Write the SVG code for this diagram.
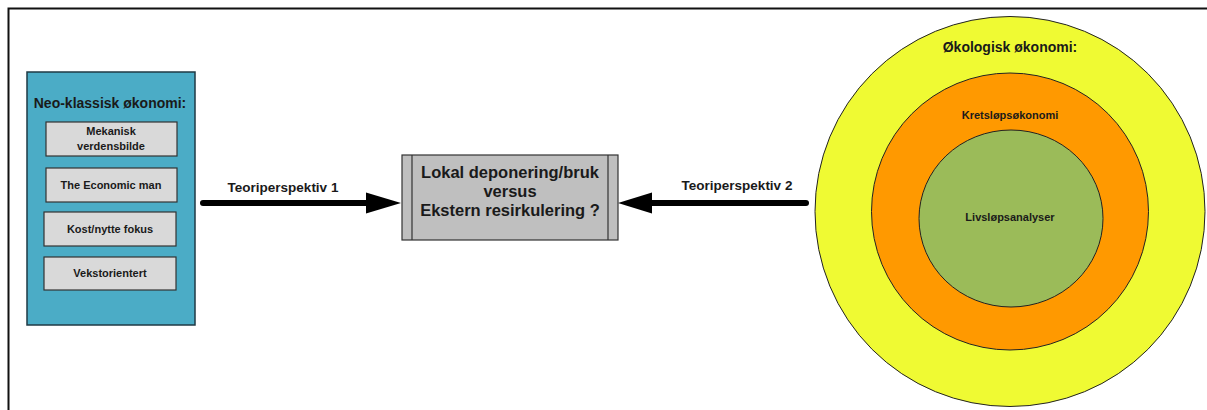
<svg xmlns="http://www.w3.org/2000/svg" width="1207" height="410" viewBox="0 0 1207 410">
  <style>
    text { font-family: "Liberation Sans", Arial, sans-serif; font-weight: bold; fill: #1a1a1a; text-anchor: middle; }
    .item { fill: #D9D9D9; stroke: #333; stroke-width: 1.2; }
    .ring { stroke: #222; stroke-width: 1; }
    .conn { stroke: #000; stroke-width: 6; stroke-linecap: round; fill: none; }
    .head { fill: #000; }
  </style>

  <!-- page frame -->
  <path d="M8.5,410 V8.5 H1207" fill="none" stroke="#111" stroke-width="2"/>

  <!-- neoclassical economics panel -->
  <g id="neo-klassisk">
    <rect x="27" y="72" width="168" height="253" fill="#4BACC6" stroke="#1f3a44" stroke-width="1.5"/>
    <text x="110" y="108" font-size="14">Neo-klassisk økonomi:</text>
    <rect class="item" x="46" y="122" width="131" height="34"/>
    <text x="111" y="135" font-size="11">Mekanisk</text>
    <text x="111" y="150" font-size="11">verdensbilde</text>
    <rect class="item" x="46" y="168" width="131" height="34"/>
    <text x="111" y="189" font-size="11">The Economic man</text>
    <rect class="item" x="44" y="212" width="132" height="34"/>
    <text x="110" y="233" font-size="11">Kost/nytte fokus</text>
    <rect class="item" x="44" y="257" width="132" height="33"/>
    <text x="110" y="277" font-size="11">Vekstorientert</text>
  </g>

  <!-- central question -->
  <g id="sporsmal">
    <rect x="402" y="155" width="216" height="85" fill="#BFBFBF" stroke="#333" stroke-width="1.2"/>
    <line x1="412" y1="155" x2="412" y2="240" stroke="#333" stroke-width="1.2"/>
    <line x1="608" y1="155" x2="608" y2="240" stroke="#333" stroke-width="1.2"/>
    <text x="510" y="178" font-size="16.5">Lokal deponering/bruk</text>
    <text x="510" y="197" font-size="16.5">versus</text>
    <text x="510" y="216" font-size="16.5">Ekstern resirkulering ?</text>
  </g>

  <!-- ecological economics rings -->
  <g id="okologisk">
    <circle class="ring" cx="1010" cy="211.5" r="195" fill="#EFFA33"/>
    <text x="1010" y="52" font-size="14">Økologisk økonomi:</text>
  </g>
  <g id="kretslop">
    <circle class="ring" cx="1010" cy="211.5" r="138.5" fill="#FF9900"/>
    <text x="1010" y="119" font-size="11">Kretsløpsøkonomi</text>
  </g>
  <g id="livslop">
    <ellipse class="ring" cx="1011" cy="218.5" rx="92" ry="88.5" fill="#9BBB59"/>
    <text x="1010" y="221" font-size="11">Livsløpsanalyser</text>
  </g>

  <!-- connectors -->
  <g id="connectors">
    <line class="conn" x1="203" y1="203" x2="370" y2="203"/>
    <polygon class="head" points="366,192.5 401,203 366,213.5"/>
    <text x="283" y="192" font-size="13.5">Teoriperspektiv 1</text>

    <line class="conn" x1="648" y1="203" x2="806" y2="203"/>
    <polygon class="head" points="652,192.5 618,203 652,213.5"/>
    <text x="737" y="190" font-size="13.5">Teoriperspektiv 2</text>
  </g>
</svg>
